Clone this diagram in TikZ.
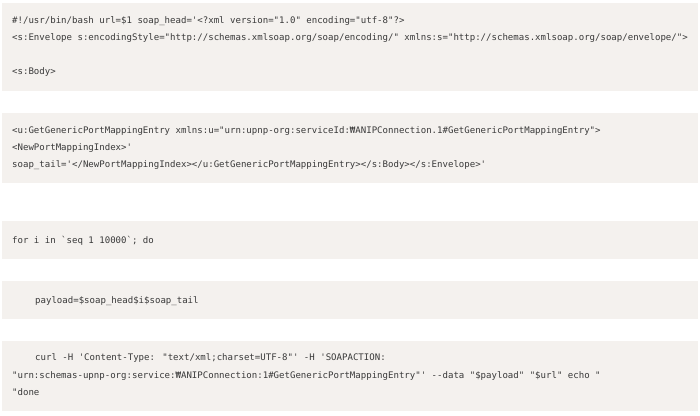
\documentclass[tikz,border=0pt]{standalone}
\usepackage{fontspec}
\newfontfamily\codefont{DejaVu Sans Mono}
\newcommand{\won}{₩}
\newcommand{\dq}{\textquotedbl}
\newcommand{\sq}{\textquotesingle}
\newcommand{\bq}{\textasciigrave}
\definecolor{boxbg}{HTML}{F4F1EE}
\definecolor{codetxt}{HTML}{3A3A3A}
\tikzset{
  codebox/.style={fill=boxbg, draw=none},
  codeline/.style={anchor=base west, inner sep=0pt, text=codetxt,
    font={\codefont\fontsize{9.05bp}{17bp}\selectfont}}
}
\begin{document}
\begin{tikzpicture}[x=1bp,y=-1bp]
\fill[white] (0,0) rectangle (700,415);
\useasboundingbox (0,0) rectangle (700,415);
% boxes
\path[codebox] (2,3) rectangle (698,91);
\path[codebox] (2,113) rectangle (698,183);
\path[codebox] (2,221) rectangle (698,259);
\path[codebox] (2,281) rectangle (698,319);
\path[codebox] (2,341) rectangle (698,411);
% box 1
\node[codeline] (a1) at (12,23.3) {\#!/usr/bin/bash url=\$1 soap\_head=\sq<?xml version=\dq1.0\dq\ encoding=\dq utf-8\dq?>};
\node[codeline] (a2) at (12,40.3) {<s:Envelope s:encodingStyle=\dq http://schemas.xmlsoap.org/soap/encoding/\dq\ xmlns:s=\dq http://schemas.xmlsoap.org/soap/envelope/\dq>};
\node[codeline] (a3) at (12,74.3) {<s:Body>};
% box 2
\node[codeline] (b1) at (12,133.3) {<u:GetGenericPortMappingEntry xmlns:u=\dq urn:upnp-org:serviceId:\won ANIPConnection.1\#GetGenericPortMappingEntry\dq>};
\node[codeline] (b2) at (12,150.3) {<NewPortMappingIndex>\sq};
\node[codeline] (b3) at (12,167.3) {soap\_tail=\sq</NewPortMappingIndex></u:GetGenericPortMappingEntry></s:Body></s:Envelope>\sq};
% box 3
\node[codeline] (c1) at (12,243.3) {for i in \bq seq 1 10000\bq; do};
% box 4
\node[codeline] (d1) at (35,303.3) {payload=\$soap\_head\$i\$soap\_tail};
% box 5
\node[codeline] (e1) at (35,360.8) {curl -H \sq Content-Type: \dq text/xml;charset=UTF-8\dq\sq\ -H \sq SOAPACTION:};
\node[codeline] (e2) at (12,378.3) {\dq urn:schemas-upnp-org:service:\won ANIPConnection:1\#GetGenericPortMappingEntry\dq\sq\ -{}-data \dq\$payload\dq\ \dq\$url\dq\ echo \dq};
\node[codeline] (e3) at (12,395.3) {\dq done};
\end{tikzpicture}
\end{document}
